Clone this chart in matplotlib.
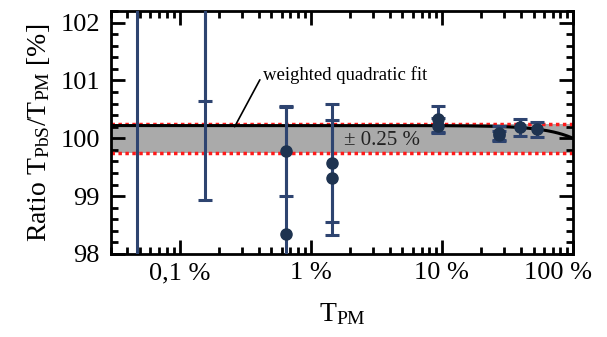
import numpy as np
import matplotlib
matplotlib.use("Agg")
import matplotlib.pyplot as plt
from matplotlib.ticker import FixedLocator, NullFormatter, MultipleLocator
from matplotlib.transforms import ScaledTranslation

plt.rcParams['font.family'] = ['Liberation Serif', 'DejaVu Serif']
plt.rcParams['mathtext.fontset'] = 'custom'
plt.rcParams['mathtext.rm'] = 'Liberation Serif'
plt.rcParams['mathtext.it'] = 'Liberation Serif:italic'

# ---- data ----
t_pm_pct = [0.047, 0.155, 0.155, 0.644, 0.644, 1.45, 1.45, 9.3, 9.3, 27.2, 27.2, 39.6, 53.0]
ratio_pct = [103.0, 103.5, 104.0, 99.78, 98.34, 99.57, 99.32, 100.33, 100.22, 100.09, 100.05, 100.19, 100.16]
ratio_err = [6.0, 2.85, 5.07, 0.77, 2.2, 1.02, 1.0, 0.22, 0.13, 0.13, 0.08, 0.15, 0.13]
fit_coeffs = [100.22, 0.0, -0.22]   # quadratic in T_PM (fraction)
band_half = 0.25
xtick_vals = [0.1, 1, 10, 100]
xtick_labels = ['0,1 %', '1 %', '10 %', '100 %']
ytick_vals = [98, 99, 100, 101, 102]

fig = plt.figure(figsize=(6.07, 3.37), dpi=100)
ax = fig.add_axes([111/607, 1-254/337, (573-111)/607, (254-11)/337])
ax.set_xscale('log')
ax.set_xlim(0.03, 100)
ax.set_ylim(98, 102.2)

# band
ax.axhspan(100 - band_half, 100 + band_half, color='#aaaaaa', zorder=1, lw=0)
for yv in (100 - band_half, 100 + band_half):
    ax.axhline(yv, color='#ff1a1a', ls=(0, (1, 1)), lw=2.5, zorder=2)

# fit
xf = np.logspace(np.log10(0.03), 2, 400)
tf = xf / 100
yf = fit_coeffs[0] + fit_coeffs[1]*tf + fit_coeffs[2]*tf**2
ax.plot(xf, yf, color='black', lw=2.2, zorder=3)

# data
ax.errorbar(t_pm_pct, ratio_pct, yerr=ratio_err, fmt='o', color='#1e3350',
            ecolor='#2e4470', elinewidth=2.2, capsize=5, capthick=2.2,
            markersize=8, zorder=4)

# annotation
ax.annotate('weighted quadratic fit', xy=(0.263, 100.2), xytext=(0.43, 101.1),
            fontsize=13.5, va='center', ha='left',
            arrowprops=dict(arrowstyle='-', color='black', lw=1.2,
                            shrinkA=0, shrinkB=0, relpos=(0, 0.5)))
ax.text(3.5, 99.97, '\u00b1 0.25 %', fontsize=15, ha='center', va='center', color='#222222', zorder=5)

# ticks
ax.xaxis.set_major_locator(FixedLocator(xtick_vals))
ax.set_xticklabels(xtick_labels)
minor = [m*10.0**e for e in range(-2, 2) for m in range(2, 10)]
ax.xaxis.set_minor_locator(FixedLocator(minor))
ax.xaxis.set_minor_formatter(NullFormatter())
ax.yaxis.set_major_locator(FixedLocator(ytick_vals))
ax.yaxis.set_minor_locator(MultipleLocator(0.2))
ax.tick_params(which='both', direction='in', top=True, right=True, width=2, labelsize=19)
ax.tick_params(which='major', length=10)
ax.tick_params(which='minor', length=5)
ax.tick_params(axis='y', pad=8)
ax.tick_params(axis='x', pad=6)
for s in ax.spines.values():
    s.set_linewidth(2)

ax.set_ylabel(r'Ratio T$_{\mathrm{PbS}}$/T$_{\mathrm{PM}}$ [%]', fontsize=20, labelpad=6)
ax.set_xlabel(r'T$_{\mathrm{PM}}$', fontsize=20, labelpad=12)

lbls = ax.get_xticklabels()
lbls[-1].set_transform(lbls[-1].get_transform() + ScaledTranslation(-0.15, 0, fig.dpi_scale_trans))

fig.savefig('out.png', dpi=100)
